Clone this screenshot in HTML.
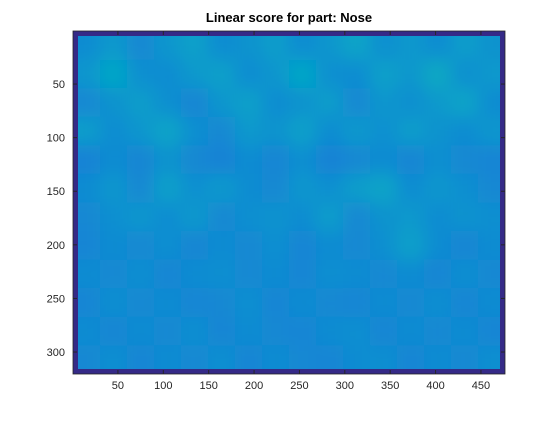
<!DOCTYPE html>
<html><head><meta charset="utf-8"><style>
body{margin:0;background:#fff;width:560px;height:420px;overflow:hidden;font-family:"Liberation Sans",sans-serif}
svg text{font-family:"Liberation Sans",sans-serif}
</style></head><body>
<svg id="c" width="560" height="420">
<defs><filter id="bl" x="-10%" y="-10%" width="120%" height="120%"><feGaussianBlur stdDeviation="9"/></filter>
<clipPath id="cp"><rect x="73" y="31" width="432" height="343"/></clipPath></defs>
<text x="289" y="22" text-anchor="middle" font-size="13" font-weight="bold" fill="#000">Linear score for part: Nose</text>
<g id="cells" clip-path="url(#cp)"></g>
<g id="axes"></g>
</svg>
<script>
const nCols=476, nRows=320;
const grid=[
[0.22,0.26,0.21,0.25,0.28,0.22,0.24,0.27,0.22,0.25,0.29,0.23,0.26,0.22,0.27,0.24],
[0.25,0.30,0.23,0.22,0.26,0.28,0.22,0.25,0.30,0.23,0.22,0.28,0.25,0.31,0.23,0.26],
[0.21,0.24,0.27,0.23,0.20,0.25,0.28,0.22,0.24,0.27,0.21,0.25,0.23,0.26,0.29,0.22],
[0.27,0.22,0.25,0.29,0.23,0.21,0.26,0.24,0.28,0.22,0.26,0.23,0.27,0.24,0.22,0.25],
[0.19,0.22,0.20,0.24,0.21,0.19,0.22,0.20,0.23,0.19,0.21,0.22,0.20,0.23,0.21,0.20],
[0.22,0.25,0.21,0.28,0.23,0.26,0.22,0.21,0.25,0.23,0.27,0.29,0.22,0.25,0.23,0.21],
[0.21,0.23,0.25,0.22,0.26,0.21,0.23,0.24,0.22,0.27,0.21,0.24,0.26,0.22,0.24,0.23],
[0.20,0.22,0.21,0.23,0.20,0.22,0.21,0.23,0.20,0.22,0.21,0.23,0.28,0.22,0.20,0.22],
[0.22,0.21,0.23,0.20,0.22,0.23,0.21,0.22,0.20,0.23,0.22,0.21,0.22,0.20,0.23,0.21],
[0.20,0.23,0.21,0.22,0.20,0.21,0.23,0.20,0.22,0.21,0.20,0.22,0.21,0.23,0.20,0.22],
[0.22,0.20,0.22,0.21,0.23,0.20,0.22,0.21,0.20,0.22,0.23,0.20,0.22,0.21,0.22,0.20],
[0.21,0.23,0.20,0.22,0.21,0.23,0.20,0.22,0.21,0.20,0.22,0.23,0.20,0.22,0.21,0.23]
];
const xTicks=[50,100,150,200,250,300,350,400,450];
const yTicks=[50,100,150,200,250,300];
const X0=73,X1=505,Y0=31,Y1=374;
const xs=v=>X0+(v-0.5)/nCols*(X1-X0);
const ys=v=>Y0+(v-0.5)/nRows*(Y1-Y0);
const stops=[[0,[53,42,135]],[0.1,[3,99,225]],[0.2,[20,133,212]],[0.3,[6,167,198]],[0.4,[56,185,158]],[0.5,[146,191,115]],[0.6,[217,186,86]],[0.7,[252,206,46]],[1,[249,251,14]]];
function cmap(t){for(let i=1;i<stops.length;i++){if(t<=stops[i][0]){const a=stops[i-1],b=stops[i],f=(t-a[0])/(b[0]-a[0]);return 'rgb('+a[1].map((c,k)=>Math.round(c+(b[1][k]-c)*f)).join(',')+')';}}return 'rgb(249,251,14)';}
const NS='http://www.w3.org/2000/svg';
const cg=document.getElementById('cells');
const inner=document.createElementNS(NS,'g');inner.setAttribute('filter','url(#bl)');cg.appendChild(inner);
const R=grid.length,C=grid[0].length;
for(let r=0;r<R;r++)for(let c=0;c<C;c++){
 const el=document.createElementNS(NS,'rect');
 const x=xs(0.5+c*nCols/C),y=ys(0.5+r*nRows/R);
 el.setAttribute('x',x-(c==0?20:0));el.setAttribute('y',y-(r==0?20:0));
 el.setAttribute('width',xs(0.5+(c+1)*nCols/C)-x+1+(c==0||c==C-1?20:0));
 el.setAttribute('height',ys(0.5+(r+1)*nRows/R)-y+1+(r==0||r==R-1?20:0));
 el.setAttribute('fill',cmap(grid[r][c]));
 
 
 inner.appendChild(el);
}
const ax=document.getElementById('axes');
let h='<rect x="75.5" y="33.5" width="427" height="338" fill="none" stroke="#352a87" stroke-width="5"/>';
h+='<rect x="73" y="31" width="432" height="343" fill="none" stroke="#262626" stroke-width="0.8"/>';
xTicks.forEach(v=>{const x=xs(v);h+=`<line x1="${x}" y1="${Y1}" x2="${x}" y2="${Y1-4}" stroke="#262626"/><line x1="${x}" y1="${Y0}" x2="${x}" y2="${Y0+4}" stroke="#262626"/><text x="${x}" y="${Y1+15}" text-anchor="middle" font-size="11" fill="#262626">${v}</text>`;});
yTicks.forEach(v=>{const y=ys(v);h+=`<line x1="${X0}" y1="${y}" x2="${X0+4}" y2="${y}" stroke="#262626"/><line x1="${X1}" y1="${y}" x2="${X1-4}" y2="${y}" stroke="#262626"/><text x="${X0-8}" y="${y+4}" text-anchor="end" font-size="11" fill="#262626">${v}</text>`;});
ax.innerHTML=h;
</script>
</body></html>
